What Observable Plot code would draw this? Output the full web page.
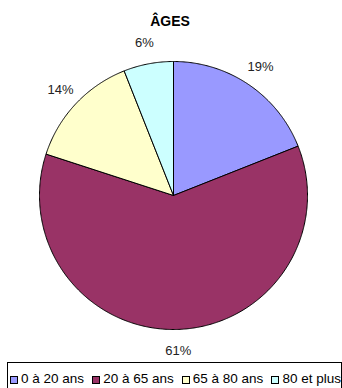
<!DOCTYPE html>
<html>
<head>
<meta charset="utf-8">
<script src="https://cdn.jsdelivr.net/npm/d3@7"></script>
<script src="https://cdn.jsdelivr.net/npm/@observablehq/plot@0.6"></script>
<style>
  html, body { margin: 0; padding: 0; background: #fff; }
  body { width: 342px; height: 388px; position: relative; overflow: hidden; font-family: "Liberation Sans", Arial, sans-serif; }
  #title { position: absolute; left: 0; top: 12px; width: 342px; text-align: center; font-weight: bold; font-size: 14px; line-height: 18px; padding-right: 2px; box-sizing: border-box; }
  #chart { position: absolute; left: 0; top: 30px; }
  #legend { position: absolute; left: 7px; top: 362px; width: 335px; height: 32px; border: 1px solid #000; box-sizing: border-box; display: flex; justify-content: space-between; align-items: flex-start; padding: 8px 0 0 2px; font-size: 13.5px; line-height: 16px; white-space: nowrap; }
  .item { display: flex; align-items: center; }
  .sw { width: 6px; height: 6px; border: 1px solid #000; margin-right: 3px; margin-top: 2px; }
</style>
</head>
<body>
<div id="title">ÂGES</div>
<div id="chart"></div>
<div id="legend"></div>
<script>
const categories = ["0 à 20 ans", "20 à 65 ans", "65 à 80 ans", "80 et plus"];
const values = [19, 61, 14, 6];
const labels = ["19%", "61%", "14%", "6%"];
const colors = ["#9999FF", "#993366", "#FFFFCC", "#CCFFFF"];

const W = 342, H = 328;
const cx = 173, cy = 165; // pie centre in svg pixels
const R = 134, RL = 155;

const pie = d3.pie().sort(null).value(d => d.value)(categories.map((c, i) => ({cat: c, value: values[i], label: labels[i]})));

const polyPts = [];
pie.forEach(p => {
  const n = Math.max(2, Math.ceil((p.endAngle - p.startAngle) / (Math.PI / 360)));
  polyPts.push({cat: p.data.cat, x: 0, y: 0});
  for (let k = 0; k <= n; k++) {
    const a = p.startAngle + (p.endAngle - p.startAngle) * k / n;
    polyPts.push({cat: p.data.cat, x: R * Math.sin(a), y: R * Math.cos(a)});
  }
  polyPts.push({cat: p.data.cat, x: 0, y: 0});
});
const labelPts = pie.map(p => {
  const a = (p.startAngle + p.endAngle) / 2;
  return {label: p.data.label, x: RL * Math.sin(a), y: RL * Math.cos(a)};
});

const chart = Plot.plot({
  width: W, height: H,
  margin: 0,
  x: {domain: [-cx, W - cx], axis: null},
  y: {domain: [-(H - cy), cy], axis: null},
  color: {domain: categories, range: colors},
  marks: [
    Plot.line(polyPts, {x: "x", y: "y", z: "cat", fill: "cat", stroke: "#000", strokeWidth: 1, strokeLinejoin: "round"}),
    Plot.text(labelPts, {x: "x", y: "y", text: "label", fontSize: 13, fill: "#222", fontFamily: "Liberation Sans, Arial, sans-serif"})
  ]
});
document.getElementById("chart").appendChild(chart);

const leg = document.getElementById("legend");
categories.forEach((c, i) => {
  const it = document.createElement("div");
  it.className = "item";
  const sw = document.createElement("div");
  sw.className = "sw";
  sw.style.background = colors[i];
  const t = document.createElement("span");
  t.textContent = c;
  it.appendChild(sw); it.appendChild(t);
  leg.appendChild(it);
});
</script>
</body>
</html>
